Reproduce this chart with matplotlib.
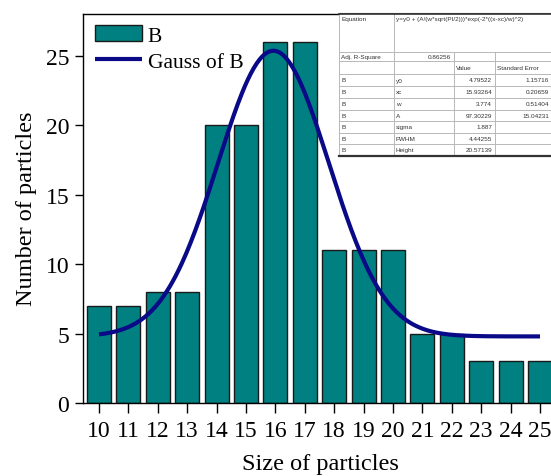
import numpy as np
import matplotlib
matplotlib.use("Agg")
import matplotlib.pyplot as plt
from matplotlib.patches import Rectangle

# histogram data
sizes = [10, 11, 12, 13, 14, 15, 16, 17, 18, 19, 20, 21, 22, 23, 24, 25]
counts = [7, 7, 8, 8, 20, 20, 26, 26, 11, 11, 11, 5, 5, 3, 3, 3]

# fit parameters shown in the report table
y0 = 4.79522
xc = 15.93264
w = 3.774
A = 97.30229

param_names = ["y0", "xc", "w", "A", "sigma", "FWHM", "Height"]
param_values = ["4.79522", "15.93264", "3.774", "97.30229", "1.887", "4.44255", "20.57139"]
param_errors = ["1.15716", "0.20659", "0.51404", "15.04231", "", "", ""]
equation = "y=y0 + (A/(w*sqrt(PI/2)))*exp(-2*((x-xc)/w)^2)"
adj_r2 = "0.86256"

W, H = 551, 477
fig = plt.figure(figsize=(W / 100, H / 100), dpi=100)
plt.rcParams['font.family'] = ['Liberation Serif', 'DejaVu Serif']

x0_px, top_px, bot_px = 83, 14.5, 404
xmin, xmax = 9.456, 25.6
px_per_unit = 29.4
right_px = x0_px + (xmax - xmin) * px_per_unit
ax = fig.add_axes([x0_px / W, 1 - bot_px / H, (right_px - x0_px) / W, (bot_px - top_px) / H])

bars = ax.bar(sizes, counts, width=0.82, color="#008080", edgecolor="#1a1a1a", linewidth=1.0,
              label="B", zorder=2)
xs = np.linspace(sizes[0], sizes[-1], 300)
ys = y0 + (A / (w * np.sqrt(np.pi / 2))) * np.exp(-2 * ((xs - xc) / w) ** 2)
line, = ax.plot(xs, ys, color="#0a0a88", linewidth=3.0, label="Gauss of B", zorder=3,
                solid_capstyle="butt")

ax.set_xlim(xmin, xmax)
ax.set_ylim(0, 28.05)
ax.set_xticks(sizes)
ax.set_yticks([0, 5, 10, 15, 20, 25])
ax.tick_params(direction="out", length=6, width=1, labelsize=17, pad=4)
ax.tick_params(axis="x", length=7, pad=5)
for s in ax.spines.values():
    s.set_linewidth(1.0)
ax.set_xlabel("Size of particles", fontsize=17.5, labelpad=9)
ax.set_ylabel("Number of particles", fontsize=17.5, labelpad=6)

ax.legend([bars, line], ["B", "Gauss of B"], loc="upper left", bbox_to_anchor=(0.0, 1.0),
          frameon=False, fontsize=15.5, handlelength=2.2, handleheight=0.75,
          handletextpad=0.25, labelspacing=0.25, borderaxespad=0.35, borderpad=0.2)

# fit report table drawn in pixel coordinates
tab = fig.add_axes([0, 0, 1, 1], zorder=10)
tab.set_xlim(0, W)
tab.set_ylim(H, 0)
tab.axis("off")

cols = [339, 394, 454, 495, 556]
rows = [15, 52.7, 62.3, 75, 87, 99, 110.5, 122, 133.5, 145, 157]
grid_c = "#b8b8b8"
tab.add_patch(Rectangle((cols[0], rows[0]), cols[-1] - cols[0], rows[-1] - rows[0],
                        facecolor="white", edgecolor="none"))
for yy in rows[1:-1]:
    tab.plot([cols[0], cols[-1]], [yy, yy], color=grid_c, lw=0.7)
tab.plot([cols[0], cols[0]], [rows[0], rows[-1]], color=grid_c, lw=0.7)
tab.plot([cols[1], cols[1]], [rows[0], rows[-1]], color=grid_c, lw=0.7)
for cx in cols[2:4]:
    tab.plot([cx, cx], [rows[1], rows[-1]], color=grid_c, lw=0.7)
tab.plot([cols[0], cols[-1]], [rows[0] - 1.5, rows[0] - 1.5], color="#555555", lw=0.8)
tab.plot([cols[0], cols[-1]], [rows[0], rows[0]], color="#333333", lw=1.2)
tab.plot([cols[0], cols[-1]], [rows[-1], rows[-1]], color="#333333", lw=1.6)

tf = dict(fontsize=4.6, family="Liberation Sans", color="#333333")
tab.text(cols[0] + 2, rows[0] + 4, "Equation", va="center", **tf)
tab.text(cols[1] + 2, rows[0] + 4, equation, va="center", **tf)
tab.text(cols[0] + 2, (rows[1] + rows[2]) / 2, "Adj. R-Square", va="center", **tf)
tab.text(cols[2] - 3, (rows[1] + rows[2]) / 2, adj_r2, va="center", ha="right", **tf)
tab.text(cols[2] + 2, (rows[2] + rows[3]) / 2, "Value", va="center", **tf)
tab.text(cols[3] + 2, (rows[2] + rows[3]) / 2, "Standard Error", va="center", **tf)
for i, name in enumerate(param_names):
    yc = (rows[3 + i] + rows[4 + i]) / 2
    tab.text(cols[0] + 2, yc, "B", va="center", **tf)
    tab.text(cols[1] + 2, yc, name, va="center", **tf)
    tab.text(cols[3] - 3, yc, param_values[i], va="center", ha="right", **tf)
    if param_errors[i]:
        tab.text(W - 2, yc, param_errors[i], va="center", ha="right", **tf)

fig.savefig("out.png", dpi=100)
